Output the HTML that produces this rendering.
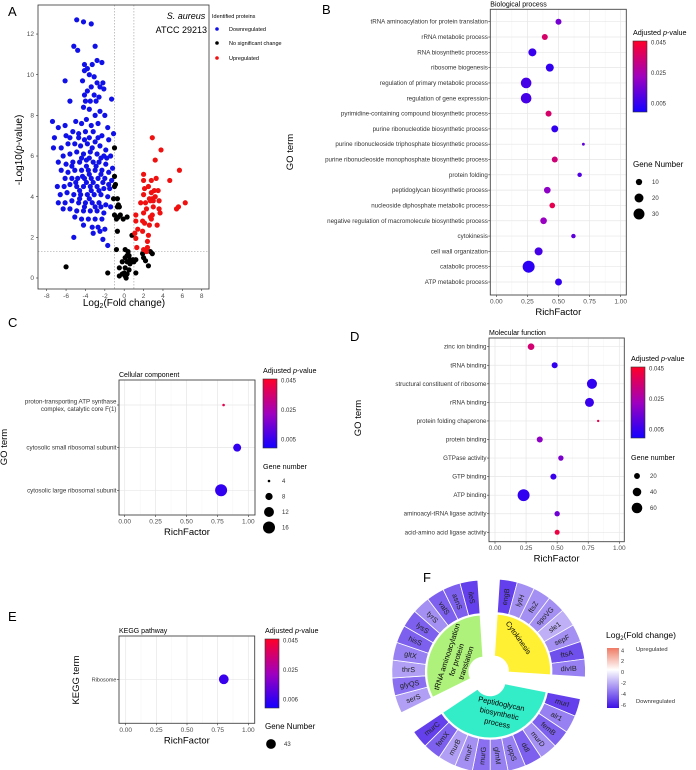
<!DOCTYPE html>
<html><head><meta charset="utf-8"><style>
html,body{margin:0;padding:0;background:#fff;}
svg{display:block;font-family:"Liberation Sans",Arial,sans-serif;}
</style></head><body>
<svg id="fig" width="696" height="770" viewBox="0 0 696 770" xmlns="http://www.w3.org/2000/svg">
<defs>
<linearGradient id="padjGrad" x1="0" y1="1" x2="0" y2="0">
<stop offset="0" stop-color="#1400ff"/><stop offset="0.5" stop-color="#a000be"/><stop offset="1" stop-color="#ff0028"/>
</linearGradient>
<linearGradient id="fcGrad" x1="0" y1="1" x2="0" y2="0">
<stop offset="0" stop-color="#3c10e6"/><stop offset="0.636" stop-color="#ffffff"/><stop offset="1" stop-color="#ef7a64"/>
</linearGradient>
</defs>
<rect width="696" height="770" fill="#fff"/>
<g id="root"></g>
</svg>
<script>
// ---------- Panel A data (log2 fold change, -log10 p) ----------
const volDown = [[-4.9,12.7],[-4.2,12.6],[-3.4,12.5],[-5.2,11.4],[-4.8,11.2],[-3.0,11.4],[-4.1,10.5],[-2.8,10.7],[-2.3,10.6],[-3.3,10.5],[-4.1,10.2],[-3.6,10.0],[-3.1,9.9],[-6.1,9.7],[-4.3,9.7],[-2.8,9.6],[-2.2,9.6],[-3.4,9.4],[-2.5,9.4],[-3.8,9.2],[-4.1,9.0],[-3.1,9.0],[-2.1,9.3],[-5.6,8.7],[-3.5,8.7],[-2.9,8.7],[-1.3,8.8],[-4.2,8.4],[-3.6,8.3],[-2.5,8.2],[-3.0,8.0],[-2.0,8.0],[-7.4,7.7],[-6.8,7.4],[-6.1,7.5],[-5.0,7.7],[-4.4,7.6],[-3.9,7.8],[-3.4,7.5],[-2.7,7.6],[-1.7,7.4],[-1.1,7.1],[-7.2,6.9],[-6.0,7.0],[-5.3,7.2],[-4.7,7.1],[-4.0,7.2],[-3.2,7.2],[-2.3,7.0],[-1.6,6.8],[-7.3,6.4],[-6.5,6.4],[-5.8,6.6],[-5.1,6.6],[-4.5,6.5],[-3.8,6.6],[-3.0,6.7],[-2.5,6.5],[-1.9,6.3],[-6.3,6.0],[-5.6,6.1],[-4.9,6.2],[-4.2,6.1],[-3.5,6.2],[-2.8,6.1],[-2.1,6.0],[-1.4,6.0],[-6.8,5.7],[-6.0,5.6],[-5.3,5.7],[-4.6,5.7],[-3.9,5.8],[-3.2,5.7],[-2.6,5.7],[-1.9,5.6],[-1.2,5.4],[-6.5,5.3],[-5.8,5.2],[-5.1,5.3],[-4.4,5.3],[-3.7,5.3],[-3.0,5.3],[-2.3,5.3],[-1.6,5.2],[-6.1,4.9],[-5.4,4.9],[-4.8,4.9],[-4.1,4.9],[-3.4,4.9],[-2.7,4.9],[-2.0,4.9],[-1.3,4.8],[-6.9,4.5],[-6.2,4.5],[-5.6,4.6],[-4.9,4.5],[-4.2,4.5],[-3.5,4.5],[-2.8,4.5],[-2.1,4.4],[-1.5,4.4],[-6.6,4.1],[-5.9,4.2],[-5.2,4.1],[-4.5,4.1],[-3.8,4.1],[-3.1,4.1],[-2.4,4.1],[-1.7,4.0],[-6.8,3.7],[-6.1,3.7],[-5.4,3.8],[-4.7,3.7],[-4.0,3.7],[-3.3,3.7],[-2.6,3.7],[-1.9,3.6],[-1.4,3.5],[-6.3,3.4],[-5.6,3.4],[-4.9,3.3],[-4.2,3.3],[-3.5,3.3],[-2.8,3.3],[-2.1,3.2],[-5.1,3.0],[-4.4,2.9],[-3.7,2.9],[-3.0,2.9],[-2.3,2.9],[-4.2,2.6],[-3.3,2.5],[-2.7,2.5],[-2.0,2.4],[-3.2,2.2],[-2.5,2.3],[-5.2,2.0],[-2.2,1.9],[-1.7,1.6],[-4.3,5.0],[-3.6,5.1],[-3.9,4.7],[-3.2,4.7],[-4.6,4.3],[-3.4,4.3],[-3.9,5.5],[-2.9,5.5],[-4.4,5.9],[-3.6,5.9],[-2.4,5.9],[-3.3,6.4],[-4.1,6.8],[-2.7,6.9],[-3.6,6.9],[-5.4,5.5],[-5.0,4.7],[-4.6,3.9],[-3.6,3.9],[-2.6,4.3],[-2.2,4.7],[-2.4,5.1],[-4.1,3.5],[-3.0,3.5],[-2.4,3.5],[-4.7,6.9],[-5.6,6.9],[-1.8,5.9],[-1.6,4.6],[-4.0,8.7],[-2.6,8.9],[-3.8,10.3]];
const volNs = [[-1.0,6.4],[-1.0,5.0],[-0.9,4.6],[-1.0,4.5],[-1.1,3.9],[-0.7,3.9],[-0.6,3.6],[-0.5,3.5],[-0.7,3.5],[-1.0,3.1],[-0.8,2.9],[-0.6,3.0],[-0.4,3.1],[-0.1,2.9],[0.3,3.0],[-0.7,2.3],[0.8,2.1],[-0.8,1.4],[0.1,1.4],[0.4,1.3],[2.7,1.3],[2.9,1.2],[1.9,1.2],[2.0,1.0],[0.1,1.0],[0.3,1.1],[0.5,1.1],[0.6,0.9],[0.9,0.9],[0.3,0.8],[-0.2,0.8],[0.6,0.7],[1.2,0.9],[1.0,0.8],[-0.5,0.5],[0.1,0.5],[2.5,0.6],[-6.0,0.55],[-1.7,0.25],[-0.5,0.1],[0.0,0.25],[0.1,0.1],[0.2,0.0],[0.3,0.2],[1.2,0.25],[0.5,0.4],[-0.2,0.2],[2.2,0.85]];
const volUp = [[2.9,6.9],[3.8,6.3],[3.2,5.8],[5.7,5.3],[2.0,5.1],[4.7,4.8],[2.0,4.8],[2.8,4.8],[3.3,4.9],[2.5,4.5],[2.1,4.4],[2.8,4.2],[3.1,4.3],[3.5,4.3],[2.0,4.1],[3.2,4.0],[2.6,3.9],[2.9,3.9],[3.0,3.8],[2.7,3.8],[1.7,3.7],[2.2,3.7],[3.6,3.8],[6.3,3.7],[5.6,3.5],[5.4,3.4],[2.3,3.4],[3.0,3.5],[3.6,3.4],[1.2,3.1],[2.0,3.2],[2.7,3.0],[2.9,3.1],[3.7,3.2],[2.8,2.9],[1.2,2.8],[1.9,2.8],[2.1,2.7],[2.6,2.6],[3.4,2.6],[1.4,2.4],[1.9,2.3],[1.1,2.2],[2.5,2.1],[2.4,1.8],[1.3,1.5],[2.4,1.5],[2.0,1.4],[2.3,1.3],[1.2,1.95]];
const volXTicks = [-8,-6,-4,-2,0,2,4,6,8];
const volYTicks = [0,2,4,6,8,10,12];

// ---------- Panel B data ----------
const bpTerms = ["tRNA aminoacylation for protein translation","rRNA metabolic process","RNA biosynthetic process","ribosome biogenesis","regulation of primary metabolic process","regulation of gene expression","pyrimidine-containing compound biosynthetic process","purine ribonucleotide biosynthetic process","purine ribonucleoside triphosphate biosynthetic process","purine ribonucleoside monophosphate biosynthetic process","protein folding","peptidoglycan biosynthetic process","nucleoside diphosphate metabolic process","negative regulation of macromolecule biosynthetic process","cytokinesis","cell wall organization","catabolic process","ATP metabolic process"];
const bpRich = [0.50,0.39,0.29,0.43,0.24,0.24,0.42,0.47,0.70,0.47,0.67,0.41,0.45,0.38,0.62,0.34,0.26,0.50];
const bpGenes = [9,9,16,16,28,28,9,12,2,9,5,11,8,11,5,16,36,12];
const bpPadj = [0.016,0.036,0.006,0.005,0.008,0.008,0.036,0.005,0.012,0.034,0.010,0.020,0.040,0.022,0.012,0.008,0.004,0.005];
const bpSizeLegend = [10,20,30];

// ---------- Panel C data ----------
const ccTerms = [["proton-transporting ATP synthase","complex, catalytic core F(1)"],["cytosolic small ribosomal subunit"],["cytosolic large ribosomal subunit"]];
const ccRich = [0.80,0.91,0.78];
const ccGenes = [4,9,16];
const ccPadj = [0.040,0.005,0.005];
const ccSizeLegend = [4,8,12,16];

// ---------- Panel D data ----------
const mfTerms = ["zinc ion binding","tRNA binding","structural constituent of ribosome","rRNA binding","protein folding chaperone","protein binding","GTPase activity","GTP binding","ATP binding","aminoacyl-tRNA ligase activity","acid-amino acid ligase activity"];
const mfRich = [0.29,0.48,0.78,0.76,0.83,0.36,0.53,0.47,0.23,0.50,0.50];
const mfGenes = [25,21,54,44,5,21,17,21,76,17,15];
const mfPadj = [0.035,0.005,0.005,0.006,0.040,0.020,0.017,0.006,0.005,0.015,0.042];
const mfSizeLegend = [20,40,60];

// ---------- Panel E data ----------
const kgTerms = ["Ribosome"];
const kgRich = [0.80];
const kgGenes = [43];
const kgPadj = [0.006];

const rfTicks = [0,0.25,0.5,0.75,1];
const rfTickLabels = ["0.00","0.25","0.50","0.75","1.00"];

// ---------- Panel F data ----------
const fGroups = ["Cytokinesis","Peptidoglycan biosynthetic process","tRNA aminoacylation for protein translation"];
const fGenes = [
 ["engB","lytH","ftsZ","spoVG","sle1","sepF","ftsA","divIB"],
 ["murI","alr1","femB","murD","ddl","uppS","glmM","murG","murF","murB","femX","murC"],
 ["serS","glyQS","thrS","gltX","hisS","lysS","tyrS","valS","asnS","ileS"]];
const fFold = [
 [-6,-3.5,-3.5,-3.5,-2.5,-3.5,-5.5,-4],
 [-6,-4,-5,-3.5,-5,-4,-4,-4.5,-3.5,-3,-5,-6],
 [-3,-4.5,-3,-4,-5,-5,-3.5,-5,-5,-6]];
const fLegendTicks = [4,2,0,-2,-4,-6];

const NS = "http://www.w3.org/2000/svg";
const root = document.getElementById('root');
function el(tag, attrs, parent, txt){
  const e = document.createElementNS(NS, tag);
  for (const k in attrs) e.setAttribute(k, attrs[k]);
  if (txt !== undefined) e.textContent = txt;
  (parent || root).appendChild(e);
  return e;
}
function padjColor(p){
  const t = Math.max(0, Math.min(1, p/0.046));
  const s = [[0,[20,0,255]],[0.5,[160,0,190]],[1,[255,0,40]]];
  let a = s[0], b = s[1];
  if (t > 0.5){ a = s[1]; b = s[2]; }
  const u = (t - a[0])/(b[0]-a[0]);
  const c = a[1].map((v,i)=>Math.round(v + (b[1][i]-v)*u));
  return `rgb(${c[0]},${c[1]},${c[2]})`;
}
function fcColor(fc){
  const t = Math.max(0, Math.min(1, fc/-7.5));
  const c = [255 + (60-255)*t, 255 + (16-255)*t, 255 + (230-255)*t].map(Math.round);
  return `rgb(${c[0]},${c[1]},${c[2]})`;
}

// ================= Panel A =================
(function(){
  const g = el('g', {});
  
  
  const X0=38, X1=209, Y0=5, Y1=289;
  const xs = v => 124.2 + 9.69*v;
  const ys = v => 278 - 20.33*v;
  volXTicks.forEach(t=>{
    const l = el('text',{x:xs(t),y:Y1+9,'font-size':6.5,fill:'#4d4d4d','text-anchor':'middle'},g,String(t));
    
    el('line',{x1:xs(t),x2:xs(t),y1:Y1,y2:Y1+2,stroke:'#333','stroke-width':0.6},g);
  });
  volYTicks.forEach(t=>{
    const l = el('text',{x:X0-4,y:ys(t)+2.2,'font-size':6.5,fill:'#4d4d4d','text-anchor':'end'},g,String(t));
    
    el('line',{x1:X0-2,x2:X0,y1:ys(t),y2:ys(t),stroke:'#333','stroke-width':0.6},g);
  });
  const dash = {stroke:'#aaa','stroke-width':0.7,'stroke-dasharray':'1.5,1.5'};
  el('line',Object.assign({x1:xs(-1),x2:xs(-1),y1:Y0,y2:Y1},dash),g);
  el('line',Object.assign({x1:xs(1),x2:xs(1),y1:Y0,y2:Y1},dash),g);
  el('line',Object.assign({x1:X0,x2:X1,y1:ys(1.3),y2:ys(1.3)},dash),g);
  const series = [[volDown,'#1010e8','down'],[volNs,'#000','ns'],[volUp,'#f01010','up']];
  series.forEach(s=>{
    s[0].forEach(p=>{
      const c = el('circle',{cx:xs(p[0]),cy:ys(p[1]),r:2.6,fill:s[1]},g);
      
      
    });
  });
  el('rect',{x:X0,y:Y0,width:X1-X0,height:Y1-Y0,fill:'none',stroke:'#333','stroke-width':0.8},g);
  const t1 = el('text',{x:186,y:19,'font-size':9,'font-style':'italic','text-anchor':'middle'},g,'S. aureus');
  
  const t2 = el('text',{x:207,y:33,'font-size':9,'text-anchor':'end'},g,'ATCC 29213');
  
  const yt = el('text',{x:0,y:0,'font-size':10,'text-anchor':'middle',transform:'translate(22,150) rotate(-90)'},g);
  
  yt.innerHTML = '-Log10(<tspan font-style="italic">p</tspan>-value)';
  const xt = el('text',{x:124,y:306,'font-size':10,'text-anchor':'middle'},g);
  
  xt.innerHTML = 'Log<tspan font-size="7" dy="2">2</tspan><tspan dy="-2">(Fold change)</tspan>';
  const lg = el('text',{x:212,y:18,'font-size':5.5},g,'Identified proteins');
  
  [['Downregulated','#1010e8',31],['No significant change','#000',45],['Upregulated','#f01010',60]].forEach(e=>{
    el('circle',{cx:217,cy:e[2]-2,r:1.8,fill:e[1]},g);
    const t = el('text',{x:229,y:e[2],'font-size':5.5},g,e[0]);
    
    
  });
})();

// ================= Dot plots =================
function dotPlot(o){
  const g = el('g', {});
  
  
  const xs = v => o.x0v + (o.x1v - o.x0v)*v;
  const n = o.terms.length;
  const rowY = i => n === 1 ? o.rowA : o.rowA + (o.rowB - o.rowA)*i/(n-1);
  el('rect',{x:o.bx0,y:o.by0,width:o.bx1-o.bx0,height:o.by1-o.by0,fill:'#fff'},g);
  for (let k=0;k<rfTicks.length-1;k++){
    const m = (rfTicks[k]+rfTicks[k+1])/2;
    el('line',{x1:xs(m),x2:xs(m),y1:o.by0,y2:o.by1,stroke:'#f4f4f4','stroke-width':0.5},g);
  }
  rfTicks.forEach((t,k)=>{
    el('line',{x1:xs(t),x2:xs(t),y1:o.by0,y2:o.by1,stroke:'#e6e6e6','stroke-width':0.7},g);
    el('line',{x1:xs(t),x2:xs(t),y1:o.by1,y2:o.by1+2,stroke:'#333','stroke-width':0.6},g);
    const l = el('text',{x:xs(t),y:o.by1+8.5,'font-size':6.5,fill:'#4d4d4d','text-anchor':'middle'},g,rfTickLabels[k]);
    
  });
  o.terms.forEach((term,i)=>{
    const y = rowY(i);
    el('line',{x1:o.bx0,x2:o.bx1,y1:y,y2:y,stroke:'#e6e6e6','stroke-width':0.7},g);
    el('line',{x1:o.bx0-2,x2:o.bx0,y1:y,y2:y,stroke:'#333','stroke-width':0.6},g);
    const lines = Array.isArray(term) ? term : [term];
    lines.forEach((ln,j)=>{
      const t = el('text',{x:o.bx0-2.5,y:y+2 + (j-(lines.length-1)/2)*7.5,'font-size':o.fs||6.2,fill:'#333','text-anchor':'end'},g,ln);
      
    });
  });
  o.terms.forEach((term,i)=>{
    const c = el('circle',{cx:xs(o.rich[i]),cy:rowY(i),r:o.rad(o.genes[i]),fill:padjColor(o.padj[i])},g);
    
    
  });
  el('rect',{x:o.bx0,y:o.by0,width:o.bx1-o.bx0,height:o.by1-o.by0,fill:'none',stroke:'#444','stroke-width':0.9},g);
  const tt = el('text',{x:o.bx0,y:o.by0-3,'font-size':7},g,o.title);
  
  const xt = el('text',{x:(o.bx0+o.bx1)/2,y:o.by1+20,'font-size':9.5,'text-anchor':'middle'},g,'RichFactor');
  
  const yt = el('text',{x:0,y:0,'font-size':9.5,'text-anchor':'middle',transform:`translate(${o.ytX},${o.ytY}) rotate(-90)`},g,o.ytitle);
  
  const cb = o.cb;
  const at = el('text',{x:cb.x,y:cb.y0-6,'font-size':7.2},g);
  
  at.innerHTML = 'Adjusted <tspan font-style="italic">p</tspan>-value';
  const br = el('rect',{x:cb.x,y:cb.y0,width:14,height:cb.y1-cb.y0,fill:'url(#padjGrad)',stroke:'#333','stroke-width':0.6},g);
  
  cb.labels.forEach((lab,k)=>{
    const yy = cb.y0 + 1.5 + k*(cb.y1-cb.y0-10)/2;
    el('text',{x:cb.x+18,y:yy+2.2,'font-size':6,fill:'#333'},g,lab);
  });
  const st = el('text',{x:cb.x,y:o.sl.y,'font-size':o.sl.fs||7.2},g,o.sl.title);
  
  o.sl.vals.forEach((v,k)=>{
    const yy = o.sl.y + o.sl.dy0 + k*o.sl.step;
    el('circle',{cx:cb.x+6,cy:yy,r:o.rad(v),fill:'#000'},g);
    const t = el('text',{x:cb.x+19,y:yy+2.2,'font-size':6,fill:'#333'},g,String(v));
    
  });
}

dotPlot({name:'biological-process-plot',terms:bpTerms,rich:bpRich,genes:bpGenes,padj:bpPadj,
  bx0:490.3,bx1:626.3,by0:9.3,by1:295,x0v:496.3,x1v:620.7,rowA:21.7,rowB:282,
  rad:n=>Math.sqrt(Math.max(0.8,1.0*n)),title:'Biological process',ytitle:'GO term',ytX:293,ytY:152,
  cb:{x:633,y0:41,y1:112,labels:['0.045','0.025','0.005']},
  sl:{title:'Gene Number',y:167,dy0:15,step:16,vals:bpSizeLegend,fs:8}});

dotPlot({name:'cellular-component-plot',terms:ccTerms,rich:ccRich,genes:ccGenes,padj:ccPadj,
  bx0:119,bx1:255,by0:380,by1:515,x0v:124.7,x1v:248.3,rowA:405,rowB:490.3,
  rad:n=>Math.sqrt(Math.max(1.4,-9.75+2.86*n)),title:'Cellular component',ytitle:'GO term',ytX:7,ytY:447,
  cb:{x:263,y0:379,y1:448,labels:['0.045','0.025','0.005']},
  sl:{title:'Gene number',y:469,dy0:12,step:15.5,vals:ccSizeLegend}});

dotPlot({name:'molecular-function-plot',terms:mfTerms,rich:mfRich,genes:mfGenes,padj:mfPadj,
  bx0:489,bx1:624.3,by0:338,by1:541.7,x0v:495,x1v:619.3,rowA:346.7,rowB:532.3,
  rad:n=>Math.sqrt(Math.max(1.4,-1+0.485*n)),title:'Molecular function',ytitle:'GO term',ytX:361,ytY:418,
  cb:{x:631,y0:367,y1:438,labels:['0.045','0.025','0.005']},
  sl:{title:'Gene number',y:460,dy0:16,step:16,vals:mfSizeLegend}});

dotPlot({name:'kegg-pathway-plot',terms:kgTerms,rich:kgRich,genes:kgGenes,padj:kgPadj,fs:5.5,
  bx0:119,bx1:254.7,by0:636,by1:723.3,x0v:125.7,x1v:248.3,rowA:679.3,rowB:679.3,
  rad:n=>Math.sqrt(0.55*n),title:'KEGG pathway',ytitle:'KEGG term',ytX:79,ytY:680,
  cb:{x:265,y0:639,y1:708,labels:['0.045','0.025','0.006']},
  sl:{title:'Gene Number',y:729,dy0:15,step:16,vals:kgGenes,fs:8}});

// ================= Panel F =================
(function(){
  const g = el('g', {});
  
  
  const CX=489, CY=675, R0=15, R1=57, R2=58.5, R3=92, EXP=6;
  const step = 11.25, gap = 7.5;
  const innerCols = ['#fff033','#33ecc8','#aef27c'];
  const rad = a => (a-90)*Math.PI/180;
  const pt = (cx,cy,r,a) => [cx + r*Math.cos(rad(a)), cy + r*Math.sin(rad(a))];
  function arc(cx,cy,r0,r1,a0,a1){
    const p1=pt(cx,cy,r1,a0), p2=pt(cx,cy,r1,a1), p3=pt(cx,cy,r0,a1), p4=pt(cx,cy,r0,a0);
    const lg = (a1-a0)>180?1:0;
    return `M${p1[0]},${p1[1]} A${r1},${r1} 0 ${lg} 1 ${p2[0]},${p2[1]} L${p3[0]},${p3[1]} A${r0},${r0} 0 ${lg} 0 ${p4[0]},${p4[1]} Z`;
  }
  let a = gap/2;
  fGroups.forEach((grp,gi)=>{
    const genes = fGenes[gi];
    const a0 = a, a1 = a + genes.length*step;
    const mid = (a0+a1)/2;
    const cx = CX + EXP*Math.cos(rad(mid)), cy = CY + EXP*Math.sin(rad(mid));
    const s = el('path',{d:arc(cx,cy,R0,R1,a0,a1),fill:innerCols[gi],stroke:'#fff','stroke-width':0.8},g);
    
    genes.forEach((gn,k)=>{
      const b0 = a0 + k*step, b1 = b0 + step;
      const p = el('path',{d:arc(cx,cy,R2,R3,b0,b1),fill:fcColor(fFold[gi][k]),stroke:'#fff','stroke-width':0.8},g);
      
      const bm = (b0+b1)/2;
      const lp = pt(cx,cy,(R2+R3)/2,bm);
      const rot = bm < 180 ? bm-90 : bm-270;
      const t = el('text',{x:lp[0],y:lp[1]+2.4,'font-size':7.2,fill:'#222','text-anchor':'middle',transform:`rotate(${rot} ${lp[0]} ${lp[1]})`},g,gn);
      
    });
    a = a1 + gap;
  });
  const c1 = el('text',{x:518,y:640,'font-size':7.5,'text-anchor':'middle',transform:'rotate(55 518 638)'},g,'Cytokinesis');
  
  const c2 = el('text',{x:0,y:0,'font-size':7.5,'text-anchor':'middle',transform:'translate(457,660) rotate(-72)'},g);
  
  ['tRNA aminoacylation','for protein','translation'].forEach((s,i)=>el('tspan',{x:0,y:-8+i*10},c2,s));
  const c3 = el('text',{x:0,y:0,'font-size':7.5,'text-anchor':'middle',transform:'translate(499,715) rotate(12)'},g);
  
  ['Peptidoglycan','biosynthetic','process'].forEach((s,i)=>el('tspan',{x:0,y:-9+i*10},c3,s));
  const lt = el('text',{x:606,y:638,'font-size':8.5},g);
  
  lt.innerHTML = 'Log<tspan font-size="6" dy="2">2</tspan><tspan dy="-2">(Fold change)</tspan>';
  const lb = el('rect',{x:607,y:648,width:12,height:60,fill:'url(#fcGrad)'},g);
  
  fLegendTicks.forEach(v=>{
    const y = 648 + (4 - v)/11*60 + 2.3;
    el('text',{x:621,y:y+2,'font-size':5.5,fill:'#333'},g,String(v));
  });
  el('text',{x:636,y:651,'font-size':5.8,fill:'#333'},g,'Upregulated');
  el('text',{x:636,y:703,'font-size':5.8,fill:'#333'},g,'Downregulated');
})();

[['A',8,16],['B',322,14],['C',8,327],['D',350,341],['E',8,621],['F',423,582]].forEach(l=>{
  const t = el('text',{x:l[1],y:l[2],'font-size':13},root,l[0]);
  
  
});
</script>
</body></html>
